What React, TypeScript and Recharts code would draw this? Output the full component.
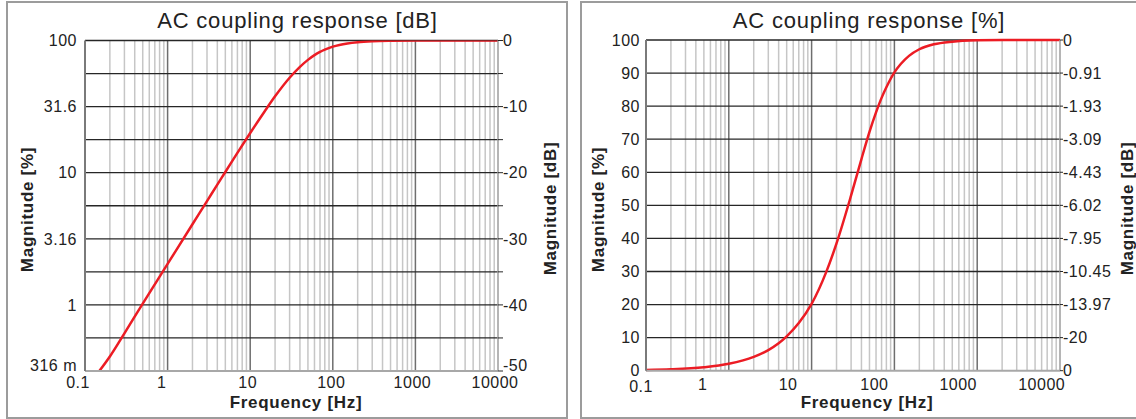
import React from "react";
import { LineChart, Line, XAxis, YAxis, ReferenceLine } from "recharts";

// frequency axis (shared by both panels)
const FREQ_TICKS = [0.1, 1, 10, 100, 1000, 10000];
const FREQ_LABELS = ["0.1", "1", "10", "100", "1000", "10000"];
const MINOR_STEPS = [2, 3, 4, 5, 6, 7, 8, 9];

// left panel: response in dB
const DB_FREQ = [0.145, 0.2, 0.3, 0.5, 1, 2, 3, 4, 5, 7, 10, 15, 20, 30, 40, 50, 60, 70, 80, 100, 120, 150, 200, 300, 500, 1000, 2000, 5000, 10000];
const DB_VALUES = [-50.2, -47.8, -44.3, -39.8, -33.8, -27.8, -24.3, -21.8, -19.9, -17.0, -14.0, -10.7, -8.45, -5.64, -3.98, -2.93, -2.22, -1.73, -1.38, -0.93, -0.67, -0.44, -0.25, -0.11, -0.04, -0.01, 0, 0, 0];
const DB_TICKS = [-50, -45, -40, -35, -30, -25, -20, -15, -10, -5, 0];
const DB_LABELED = [0, -10, -20, -30, -40, -50];
const DB_AS_PCT = ["100", "31.6", "10", "3.16", "1", "316 m"];

// right panel: response in %
const PCT_FREQ = [0.1, 0.2, 0.5, 1, 2, 3, 4, 5, 7, 10, 15, 20, 30, 40, 50, 60, 70, 80, 100, 120, 150, 200, 300, 500, 1000, 2000, 5000, 10000];
const PCT_VALUES = [0.21, 0.42, 1.04, 2.08, 4.16, 6.24, 8.3, 10.4, 14.4, 20.2, 29.8, 38.5, 53.0, 64.0, 72.2, 78.1, 82.5, 85.7, 90.2, 92.8, 95.2, 97.2, 98.7, 99.5, 99.9, 100, 100, 100];
const PCT_TICKS = [0, 10, 20, 30, 40, 50, 60, 70, 80, 90, 100];
const PCT_AS_DB = ["0", "-20", "-13.97", "-10.45", "-7.95", "-6.02", "-4.43", "-3.09", "-1.93", "-0.91", "0"];

const FONT = "'Liberation Sans', Arial, sans-serif";
const INK = "#222";
const RED = "#ec1c24";
const MINOR = "#c6c6c6";
const MAJOR = "#6e6e6e";
const HLINE = "#262626";
const FRAME = "#9c9c9c";

const dbData = DB_FREQ.map((f, i) => ({ f, v: DB_VALUES[i] }));
const pctData = PCT_FREQ.map((f, i) => ({ f, v: PCT_VALUES[i] }));

const minorFreqs: number[] = [];
FREQ_TICKS.slice(0, -1).forEach((d) => MINOR_STEPS.forEach((k) => minorFreqs.push(+(d * k).toPrecision(3))));

const tickFont = { fontSize: 16, fill: INK, fontFamily: FONT, letterSpacing: 0.5 };

// x labels are nudged individually, as in the source plot
function FreqTick(props: any) {
  const { x, y, payload, shifts, dys } = props;
  const i = FREQ_TICKS.indexOf(payload.value);
  return (
    <text x={x + (shifts[i] || 0)} y={y + dys[i]} textAnchor="middle" {...tickFont}>
      {FREQ_LABELS[i]}
    </text>
  );
}

// dB axis labels; the bottom one sits a little higher, clear of the x labels
function DbTick(props: any) {
  const { x, y, payload, textAnchor, asPct } = props;
  const i = DB_LABELED.indexOf(payload.value);
  if (i < 0) return null;
  const lift = payload.value === -50 ? 6 : 0;
  return (
    <text x={x} y={y + 5.7 - lift} textAnchor={textAnchor} {...tickFont}>
      {asPct ? DB_AS_PCT[i] : String(payload.value)}
    </text>
  );
}

function gridLines(hTicks: number[], bottom: number) {
  return [
    ...minorFreqs.map((f) => (
      <ReferenceLine key={"m" + f} yAxisId="l" x={f} stroke={MINOR} strokeWidth={1.5} />
    )),
    ...FREQ_TICKS.slice(1, -1).map((f) => (
      <ReferenceLine key={"M" + f} yAxisId="l" x={f} stroke={MAJOR} strokeWidth={1.5} />
    )),
    ...hTicks.filter((t) => t !== bottom).map((t) => (
      <ReferenceLine key={"h" + t} yAxisId="l" y={t} stroke={HLINE} strokeWidth={1.3} />
    )),
  ];
}

function DbPanel() {
  return (
    <LineChart width={567} height={419} data={dbData} margin={{ top: 40.5, right: 19, bottom: 18, left: 15 }}>
      <XAxis
        dataKey="f"
        type="number"
        scale="log"
        domain={[0.1, 10000]}
        ticks={FREQ_TICKS}
        allowDataOverflow
        height={30}
        tickSize={0}
        tickLine={false}
        axisLine={{ stroke: "#a8a8a8", strokeWidth: 2 }}
        tick={(p: any) => (
          <FreqTick {...p} shifts={[-7, -6, -2.5, -1.5, -3, -3]} dys={[15.3, 15.3, 15.3, 15.3, 15.3, 15.3]} />
        )}
      />
      <YAxis
        yAxisId="l"
        type="number"
        domain={[-50, 0]}
        allowDataOverflow
        ticks={DB_TICKS}
        width={70}
        tickLine={false}
        axisLine={{ stroke: "#7a7a7a", strokeWidth: 2 }}
        tick={(p: any) => <DbTick {...p} asPct />}
      />
      <YAxis
        yAxisId="r"
        orientation="right"
        type="number"
        domain={[-50, 0]}
        allowDataOverflow
        ticks={DB_TICKS}
        width={50}
        tickSize={5}
        tickMargin={0}
        tickLine={{ stroke: HLINE }}
        axisLine={{ stroke: FRAME, strokeWidth: 1.5 }}
        tick={(p: any) => <DbTick {...p} />}
      />
      {gridLines(DB_TICKS, -50)}
      <Line yAxisId="r" dataKey="v" stroke="none" dot={false} isAnimationActive={false} />
      <Line yAxisId="l" type="monotone" dataKey="v" stroke={RED} strokeWidth={2.5} dot={false} isAnimationActive={false} />
    </LineChart>
  );
}

function PctPanel() {
  return (
    <LineChart width={561} height={419} data={pctData} margin={{ top: 40, right: 16, bottom: 18, left: 15 }}>
      <XAxis
        dataKey="f"
        type="number"
        scale="log"
        domain={[0.1, 10000]}
        ticks={FREQ_TICKS}
        allowDataOverflow
        height={30.3}
        tickSize={0}
        tickLine={false}
        axisLine={{ stroke: "#a8a8a8", strokeWidth: 2 }}
        tick={(p: any) => (
          <FreqTick {...p} shifts={[-5, -26, -23.5, -20, -19, -18.3]} dys={[19.5, 17.5, 17.5, 17, 17, 17.5]} />
        )}
      />
      <YAxis
        yAxisId="l"
        type="number"
        domain={[0, 100]}
        ticks={PCT_TICKS}
        width={56}
        tickSize={6}
        tickMargin={0}
        tickLine={false}
        axisLine={{ stroke: "#7a7a7a", strokeWidth: 2 }}
        tick={tickFont}
      />
      <YAxis
        yAxisId="r"
        orientation="right"
        type="number"
        domain={[0, 100]}
        ticks={PCT_TICKS}
        width={60}
        tickSize={3}
        tickMargin={0}
        tickLine={{ stroke: HLINE }}
        axisLine={{ stroke: FRAME, strokeWidth: 1.5 }}
        tick={tickFont}
        tickFormatter={(v: number) => PCT_AS_DB[PCT_TICKS.indexOf(v)]}
      />
      {gridLines(PCT_TICKS, 0)}
      <Line yAxisId="r" dataKey="v" stroke="none" dot={false} isAnimationActive={false} />
      <Line yAxisId="l" type="monotone" dataKey="v" stroke={RED} strokeWidth={2.5} dot={false} isAnimationActive={false} />
    </LineChart>
  );
}

const titleStyle = { fontSize: 22, fill: INK, fontFamily: FONT, letterSpacing: 0.8 };
const axisTitle = { fontSize: 17, fontWeight: 700, fill: INK, fontFamily: FONT, letterSpacing: 0.7 };

function vLabel(x: number, y: number, text: string) {
  return (
    <text x={x} y={y} textAnchor="middle" transform={`rotate(-90 ${x} ${y})`} {...axisTitle}>
      {text}
    </text>
  );
}

export default function App() {
  const box = { position: "absolute" as const, top: 1, height: 418, border: `2px solid ${FRAME}`, boxSizing: "border-box" as const };
  return (
    <div style={{ position: "absolute", left: 0, top: 0, width: 1136, height: 419, overflow: "hidden", background: "#fff" }}>
      <div style={{ ...box, left: 6, width: 562 }} />
      <div style={{ ...box, left: 580, width: 570 }} />
      <div style={{ position: "absolute", left: 0, top: 0 }}>
        <DbPanel />
      </div>
      <div style={{ position: "absolute", left: 575, top: 0 }}>
        <PctPanel />
      </div>
      <svg width={1136} height={419} style={{ position: "absolute", left: 0, top: 0, pointerEvents: "none" }}>
        <text x={297.5} y={28.3} textAnchor="middle" {...titleStyle}>AC coupling response [dB]</text>
        <text x={869} y={28.3} textAnchor="middle" {...titleStyle}>AC coupling response [%]</text>
        <text x={296} y={407.5} textAnchor="middle" {...axisTitle}>Frequency [Hz]</text>
        <text x={867} y={407.5} textAnchor="middle" {...axisTitle}>Frequency [Hz]</text>
        {vLabel(33, 209.5, "Magnitude [%]")}
        {vLabel(556, 208.5, "Magnitude [dB]")}
        {vLabel(603.5, 209.5, "Magnitude [%]")}
        {vLabel(1133, 208.5, "Magnitude [dB]")}
      </svg>
    </div>
  );
}
